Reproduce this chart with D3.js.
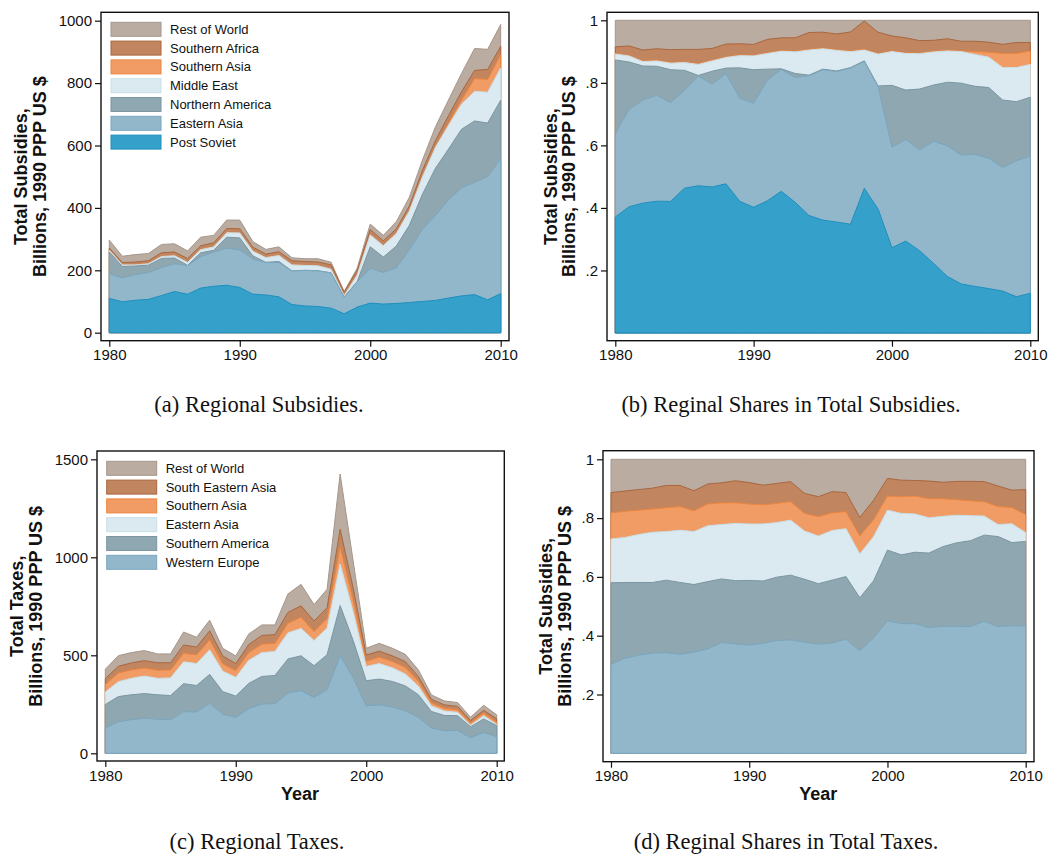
<!DOCTYPE html>
<html>
<head>
<meta charset="utf-8">
<script src="https://cdn.jsdelivr.net/npm/d3@7"></script>
<style>
  body { margin: 0; background: #fff; }
  .tick text { font-family: "Liberation Sans", Arial, sans-serif; font-size: 15px; fill: #111; }
  .tick line { stroke: #111; stroke-width: 1.2; }
  .ytitle, .xtitle { font-family: "Liberation Sans", Arial, sans-serif; font-weight: bold; font-size: 18px; fill: #111; }
  .legend text { font-family: "Liberation Sans", Arial, sans-serif; font-size: 13px; fill: #111; }
  .caption { font-family: "Liberation Serif", "Times New Roman", serif; font-size: 22.5px; fill: #111; }
</style>
</head>
<body>
<div id="chart"></div>
<script>

// years on the x axis
var years = [1980, 1981, 1982, 1983, 1984, 1985, 1986, 1987, 1988, 1989,
             1990, 1991, 1992, 1993, 1994, 1995, 1996, 1997, 1998, 1999,
             2000, 2001, 2002, 2003, 2004, 2005, 2006, 2007, 2008, 2009, 2010];

var postSoviet      = [110, 99, 104, 107, 119, 132, 123.4, 142.9, 148.8, 152, 145.1, 123.5, 121, 115, 90.2, 85.6, 84.1, 78.6, 60.7, 82, 95, 91.7, 93.6, 96.8, 100.1, 103.6, 111.2, 118, 122.1, 105.3, 125.5];
var easternAsia     = [79, 76.2, 82.5, 85.9, 89.4, 89.2, 92, 100.7, 110.1, 118.8, 120.2, 112.7, 104.1, 109.7, 107.3, 114, 114, 113, 53.2, 81.1, 111.7, 101.4, 114.6, 169.3, 231.2, 271.9, 314.8, 346.5, 359.8, 395, 432.7];
var northernAmerica = [70, 37.2, 27.3, 23.6, 29.7, 18.2, 0.5, 12.5, 5.3, 35.4, 38.6, 10.2, 0.5, 3.6, 0.5, 0.5, 0.5, 0.2, 0.3, 0.4, 68.9, 49.3, 69.4, 78.1, 112.3, 151.8, 162.6, 187.8, 196.8, 171.6, 186.7];
var middleEast      = [5.6, 4.7, 3.5, 4.3, 5.9, 7.1, 9.2, 10.1, 10.6, 14.1, 15.9, 14.6, 15, 19, 19.2, 15.4, 15.6, 11.5, 4.5, 21.1, 37.6, 36.5, 40.2, 46, 55.3, 66.7, 76.1, 80.6, 94.7, 99, 103.7];
var southernAsia    = [0.6, 0.5, 0.5, 0.5, 0.6, 0.6, 0.5, 0.6, 0.6, 0.7, 0.7, 0.6, 0.5, 0.6, 0.5, 0.5, 0.5, 0.5, 0.3, 0.4, 0.7, 0.6, 0.7, 0.9, 1.1, 1.3, 6.7, 13.3, 41, 40.9, 42.5];
var southernAfrica  = [6.2, 7.4, 8.8, 9.4, 11.6, 11.4, 12.1, 11.6, 12.8, 13, 12.6, 12.6, 10.9, 11.8, 13, 12.1, 11.9, 13.8, 11.9, 14.1, 16.7, 15, 14.2, 15.2, 20.5, 20.5, 24.6, 26.6, 26.4, 31.8, 26.7];
var restOfWorld     = [25.2, 20.1, 23.8, 23.1, 26.6, 26.5, 24.4, 27.5, 23.7, 27.1, 27.8, 17.8, 15, 15.4, 9.4, 9, 10.4, 8.4, 0.3, 7.9, 17.4, 17.5, 23.1, 27.8, 32.6, 44.2, 50, 58.2, 70.1, 64.5, 70.1];

var westernEurope    = [130, 160.9, 171.7, 178.7, 173.4, 170.9, 212.9, 210.2, 256, 199.4, 182.9, 227.8, 251.5, 252.8, 307.3, 319.8, 284.6, 324.8, 497.3, 385.1, 241.7, 247.4, 236.4, 216.1, 183.6, 128.7, 115.1, 116.3, 79.3, 106.3, 84.9];
var southernAmerica  = [118.8, 128.5, 127, 125.8, 125.2, 123.7, 142.4, 135.6, 146.7, 115.2, 109.3, 129.1, 140.8, 144.1, 174, 177.6, 162.4, 178.3, 256.5, 190.1, 128.6, 131.3, 130.2, 127.8, 115.2, 84.6, 78, 75.9, 56.3, 69.3, 56.4];
var easternAsiaTax   = [63.9, 76.2, 83.8, 89.6, 83.7, 90.2, 111.4, 112.5, 125.6, 104.5, 95.4, 118.1, 121.8, 122.5, 133.3, 139.6, 128.3, 136.4, 212.3, 147, 72.9, 79.1, 69.7, 60.6, 43.8, 28, 22.7, 16.8, 7.5, 15.7, 5.9];
var southernAsiaTax  = [38.2, 44.3, 42.7, 41.4, 41.1, 40.6, 43.9, 43.8, 50.2, 37.5, 33.8, 39.6, 42.6, 41.3, 48.8, 56.9, 45.5, 48.5, 86.9, 56.8, 25.7, 32, 32.7, 32.8, 25.5, 15.8, 13.6, 12.7, 11.2, 13.5, 12];
var southEasternAsia = [29.6, 34.4, 36, 37.2, 38.5, 36.5, 42.1, 40.3, 46.2, 40.2, 36.3, 40.8, 44.5, 44.5, 55.3, 58.6, 54.6, 54.4, 89.8, 64.7, 32.2, 31.4, 28.4, 30.3, 23.8, 18.5, 17.6, 17.6, 12.9, 14.5, 16.7];
var restOfWorldTax   = [48.5, 53.8, 52.9, 51.4, 45.1, 45.1, 66.2, 49.7, 54.3, 39.1, 39.3, 53.6, 53.7, 49.8, 94.3, 109.5, 83.5, 94.6, 282.2, 136.2, 34.8, 39.8, 38.6, 37.4, 33.2, 22.4, 20, 19.7, 16.7, 25.7, 20.2];

// tick values and labels
var yearTicks = [1980, 1990, 2000, 2010];
var subsidyTicks = [0, 200, 400, 600, 800, 1000];
var taxTicks = [0, 500, 1000, 1500];
var shareTicks = [0.2, 0.4, 0.6, 0.8, 1];
var shareTickLabels = [".2", ".4", ".6", ".8", "1"];

var subsidyKeys = ["Post Soviet", "Eastern Asia", "Northern America", "Middle East", "Southern Asia", "Southern Africa", "Rest of World"];
var subsidySeries = [postSoviet, easternAsia, northernAmerica, middleEast, southernAsia, southernAfrica, restOfWorld];
var taxKeys = ["Western Europe", "Southern America", "Eastern Asia", "Southern Asia", "South Eastern Asia", "Rest of World"];
var taxSeries = [westernEurope, southernAmerica, easternAsiaTax, southernAsiaTax, southEasternAsia, restOfWorldTax];

// fill / outline, bottom layer first
var subsidyColors = [["#35a1ca", "#1e8fbe"], ["#92b7ca", "#7ba6bd"], ["#8fa7b1", "#7b96a2"], ["#dbeaf0", "#c9dfe8"],
                     ["#f19c64", "#eb853f"], ["#c1855f", "#a8673f"], ["#baaca1", "#a6968a"]];
var taxColors = [["#92b7ca", "#7ba6bd"], ["#8fa7b1", "#7b96a2"], ["#dbeaf0", "#c9dfe8"],
                 ["#f19c64", "#eb853f"], ["#c1855f", "#a8673f"], ["#baaca1", "#a6968a"]];

function toRows(keys, series) {
  return years.map(function (yr, i) {
    var row = { year: yr };
    keys.forEach(function (k, j) { row[k] = series[j][i]; });
    return row;
  });
}

var svg = d3.select("#chart").append("svg")
  .attr("width", 1050)
  .attr("height", 854);

function panel(opt) {
  var rows = toRows(opt.keys, opt.series);
  var stack = d3.stack().keys(opt.keys);
  if (opt.expand) stack.offset(d3.stackOffsetExpand);
  var layers = stack(rows);

  var x = d3.scaleLinear().domain([1980, 2010]).range(opt.xr);
  var y = d3.scaleLinear().domain(opt.yd).range(opt.yr);

  var g = svg.append("g");

  var area = d3.area()
    .x(function (d) { return x(d.data.year); })
    .y0(y(0))
    .y1(function (d) { return y(d[1]); });

  // stata style: every cumulative area from zero, top one drawn first
  g.selectAll(".layer")
    .data(layers.slice().reverse()).enter()
    .append("path")
    .attr("class", "layer")
    .attr("d", area)
    .attr("fill", function (d) { return opt.colors[d.index][0]; })
    .attr("stroke", function (d) { return opt.colors[d.index][1]; })
    .attr("stroke-width", 1)
    .attr("stroke-linejoin", "round");

  var f = opt.frame;
  g.append("rect")
    .attr("x", f[0]).attr("y", f[1])
    .attr("width", f[2] - f[0]).attr("height", f[3] - f[1])
    .attr("fill", "none").attr("stroke", "#111").attr("stroke-width", 1.4);

  var yAxis = d3.axisLeft(y).tickValues(opt.yticks).tickSize(6).tickSizeOuter(0).tickPadding(3);
  if (opt.ylabels) yAxis.tickFormat(function (d, i) { return opt.ylabels[i]; });
  else yAxis.tickFormat(d3.format("d"));
  g.append("g").attr("transform", "translate(" + f[0] + ",0)").call(yAxis)
    .call(function (s) { s.select(".domain").remove(); });

  var xAxis = d3.axisBottom(x).tickValues(yearTicks).tickSize(6).tickSizeOuter(0).tickPadding(3)
    .tickFormat(d3.format("d"));
  g.append("g").attr("transform", "translate(0," + f[3] + ")").call(xAxis)
    .call(function (s) { s.select(".domain").remove(); });

  var cy = (opt.yr[0] + opt.yr[1]) / 2;
  opt.ytitle.forEach(function (t, i) {
    g.append("text")
      .attr("class", "ytitle")
      .attr("transform", "translate(" + opt.ytx[i] + "," + cy + ") rotate(-90)")
      .attr("text-anchor", "middle")
      .text(t);
  });

  if (opt.xtitle) {
    g.append("text")
      .attr("class", "xtitle")
      .attr("x", opt.xtitle[1]).attr("y", opt.xtitle[2])
      .attr("text-anchor", "middle")
      .text(opt.xtitle[0]);
  }

  if (opt.legend) {
    var lg = g.append("g").attr("class", "legend");
    var items = opt.keys.map(function (k, i) { return { key: k, i: i }; }).reverse();
    items.forEach(function (it, r) {
      var ry = opt.legend[1] + r * 18.8;
      lg.append("rect")
        .attr("x", opt.legend[0]).attr("y", ry - 7)
        .attr("width", 50).attr("height", 14)
        .attr("fill", opt.colors[it.i][0])
        .attr("stroke", opt.colors[it.i][1]).attr("stroke-width", 1);
      lg.append("text")
        .attr("x", opt.legend[0] + 59).attr("y", ry + 4.5)
        .text(it.key);
    });
  }

  svg.append("text")
    .attr("class", "caption")
    .attr("x", opt.caption[1]).attr("y", opt.caption[2])
    .attr("text-anchor", "middle")
    .text(opt.caption[0]);
}

panel({
  keys: subsidyKeys, series: subsidySeries, colors: subsidyColors,
  xr: [109.3, 500.7], yd: [0, 1000], yr: [332.7, 20.7], frame: [101, 12.3, 509, 340.7],
  yticks: subsidyTicks,
  ytitle: ["Total Subsidies,", "Billions, 1990 PPP US $"], ytx: [27.2, 45.8],
  legend: [111, 29.3],
  caption: ["(a) Regional Subsidies.", 259, 412]
});

panel({
  keys: subsidyKeys, series: subsidySeries, colors: subsidyColors, expand: true,
  xr: [615.3, 1030.3], yd: [0, 1], yr: [333, 20.3], frame: [607, 12.3, 1038.3, 340.7],
  yticks: shareTicks, ylabels: shareTickLabels,
  ytitle: ["Total Subsidies,", "Billions, 1990 PPP US $"], ytx: [556.5, 574.5],
  caption: ["(b) Reginal Shares in Total Subsidies.", 791, 412]
});

panel({
  keys: taxKeys, series: taxSeries, colors: taxColors,
  xr: [105.3, 496.7], yd: [0, 1500], yr: [753.3, 459.3], frame: [97, 451, 504.3, 761],
  yticks: taxTicks,
  ytitle: ["Total Taxes,", "Billions, 1990 PPP US $"], ytx: [23.2, 41.5],
  xtitle: ["Year", 300, 799.5],
  legend: [106.7, 468.3],
  caption: ["(c) Regional Taxes.", 257, 849]
});

panel({
  keys: taxKeys, series: taxSeries, colors: taxColors, expand: true,
  xr: [611, 1025.7], yd: [0, 1], yr: [753.3, 459.3], frame: [603, 450.7, 1034, 761.7],
  yticks: shareTicks, ylabels: shareTickLabels,
  ytitle: ["Total Subsidies,", "Billions, 1990 PPP US $"], ytx: [552.2, 570.8],
  xtitle: ["Year", 818.3, 799.5],
  caption: ["(d) Reginal Shares in Total Taxes.", 786, 849]
});

</script>
</body>
</html>
